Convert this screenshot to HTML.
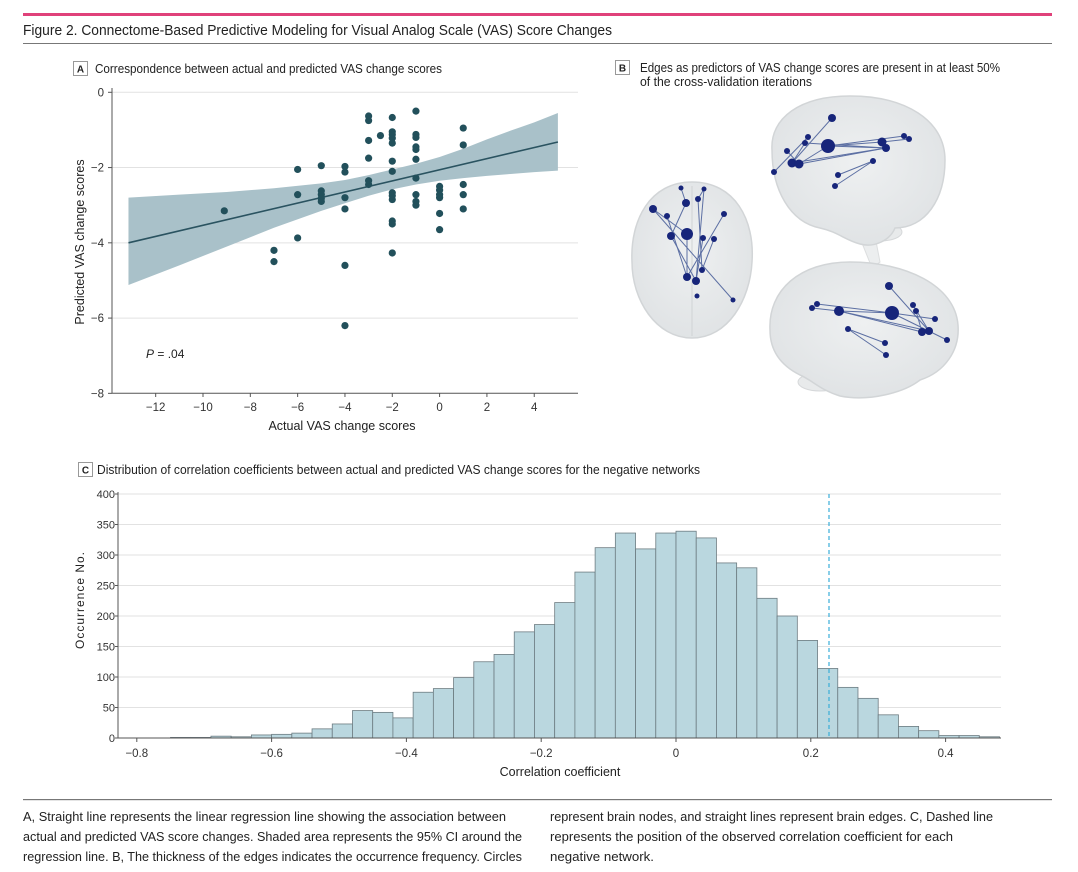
<!DOCTYPE html>
<html><head><meta charset="utf-8"><style>
html,body{margin:0;padding:0;background:#fff;}
svg{display:block;font-family:"Liberation Sans",sans-serif;}
</style></head><body>
<svg id="fig" width="1078" height="872" viewBox="0 0 1078 872" xmlns="http://www.w3.org/2000/svg">
<defs><radialGradient id="bg" cx="50%" cy="45%" r="60%"><stop offset="0" stop-color="#eef0f1"/><stop offset="1" stop-color="#dfe2e4"/></radialGradient></defs>
<rect x="23" y="13" width="1029" height="3" fill="#e0417a"/>
<text x="23" y="35" font-size="14.5" fill="#222" textLength="589" lengthAdjust="spacingAndGlyphs">Figure 2. Connectome-Based Predictive Modeling for Visual Analog Scale (VAS) Score Changes</text>
<rect x="23" y="43" width="1029" height="1" fill="#777"/>

<rect x="73.5" y="61.5" width="14" height="14" fill="#fff" stroke="#999"/>
<text x="80.5" y="72.5" font-size="10" font-weight="bold" text-anchor="middle" fill="#222">A</text>
<text x="95" y="73" font-size="12.5" fill="#222" textLength="347" lengthAdjust="spacingAndGlyphs">Correspondence between actual and predicted VAS change scores</text>

<rect x="615.5" y="60.5" width="14" height="14" fill="#fff" stroke="#999"/>
<text x="622.5" y="71.5" font-size="10" font-weight="bold" text-anchor="middle" fill="#222">B</text>
<text x="640" y="72" font-size="12.5" fill="#222" textLength="360" lengthAdjust="spacingAndGlyphs">Edges as predictors of VAS change scores are present in at least 50%</text>
<text x="640" y="86" font-size="12.5" fill="#222" textLength="172" lengthAdjust="spacingAndGlyphs">of the cross-validation iterations</text>

<rect x="78.5" y="462.5" width="14" height="14" fill="#fff" stroke="#999"/>
<text x="85.5" y="473.5" font-size="10" font-weight="bold" text-anchor="middle" fill="#222">C</text>
<text x="97" y="474" font-size="12.5" fill="#222" textLength="603" lengthAdjust="spacingAndGlyphs">Distribution of correlation coefficients between actual and predicted VAS change scores for the negative networks</text>

<g id="scatter"></g>
<g id="brains"></g>
<g id="hist"></g>

<rect x="23" y="799" width="1029" height="1.2" fill="#777"/>
<g font-size="13" fill="#222">
<text x="23" y="821" textLength="483" lengthAdjust="spacingAndGlyphs">A, Straight line represents the linear regression line showing the association between</text>
<text x="23" y="841" textLength="499" lengthAdjust="spacingAndGlyphs">actual and predicted VAS score changes. Shaded area represents the 95% CI around the</text>
<text x="23" y="861" textLength="499" lengthAdjust="spacingAndGlyphs">regression line. B, The thickness of the edges indicates the occurrence frequency. Circles</text>
<text x="550" y="821" textLength="443" lengthAdjust="spacingAndGlyphs">represent brain nodes, and straight lines represent brain edges. C, Dashed line</text>
<text x="550" y="841" textLength="403" lengthAdjust="spacingAndGlyphs">represents the position of the observed correlation coefficient for each</text>
<text x="550" y="861" textLength="104" lengthAdjust="spacingAndGlyphs">negative network.</text>
</g>
</svg>
<script>
const NS="http://www.w3.org/2000/svg";
// ---------- Scatter data ----------
const scatterX=[-9.1,-7,-7,-6,-6,-6,-5,-5,-5,-5,-5,-4,-4,-4,-4,-4,-4,-3,-3,-3,-3,-3,-3,-2.5,
-2,-2,-2,-2,-2,-2,-2,-2,-2,-2,-2,-2,-2,-1,-1,-1,-1,-1,-1,-1,-1,-1,-1,0,0,0,0,0,0,1,1,1,1,1];
const scatterY=[-3.15,-4.2,-4.5,-2.05,-2.72,-3.87,-1.95,-2.62,-2.72,-2.82,-2.9,-1.97,-2.12,-2.8,-3.1,-4.6,-6.2,-0.63,-0.75,-1.28,-1.75,-2.35,-2.45,-1.15,
-0.67,-1.05,-1.12,-1.22,-1.35,-1.83,-2.1,-2.67,-2.75,-2.85,-3.42,-3.5,-4.27,-0.5,-1.12,-1.2,-1.45,-1.52,-1.78,-2.28,-2.72,-2.9,-3.0,-2.5,-2.6,-2.72,-2.8,-3.22,-3.65,-0.95,-1.4,-2.45,-2.72,-3.1];
const regX=[-13.15,5.0];
const regY=[-4.0,-1.32];
const bandX=[-13.15,-11,-9,-7,-5,-4,-3,-2,-1,0,1,2,3,4,5];
const bandUpper=[-2.8,-2.72,-2.65,-2.55,-2.42,-2.33,-2.2,-2.05,-1.9,-1.72,-1.5,-1.25,-1.02,-0.8,-0.55];
const bandLower=[-5.12,-4.6,-4.1,-3.6,-3.15,-2.95,-2.75,-2.58,-2.45,-2.35,-2.28,-2.22,-2.17,-2.12,-2.08];
const xTicksA=[-12,-10,-8,-6,-4,-2,0,2,4];
const yTicksA=[0,-2,-4,-6,-8];

const sx=v=>439.6+v*23.66, sy=v=>92.3-v*37.63;
function el(tag,attrs,parent){const e=document.createElementNS(NS,tag);for(const k in attrs)e.setAttribute(k,attrs[k]);parent.appendChild(e);return e;}
const S=document.getElementById('scatter');
yTicksA.forEach(t=>{
  if(t>-8){const g=el('line',{x1:112,x2:578,y1:sy(t),y2:sy(t),stroke:'#e2e2e2','stroke-width':1},S);
  
  }
  el('line',{x1:108,x2:112,y1:sy(t),y2:sy(t),stroke:'#555'},S);
  const tx=el('text',{x:104,y:sy(t)+4,'font-size':11.5,'text-anchor':'end',fill:'#333'},S);tx.textContent=t===0?'0':'−'+Math.abs(t);
  
  
});
el('line',{x1:112,x2:112,y1:88,y2:393.3,stroke:'#555'},S);
el('line',{x1:112,x2:578,y1:393.3,y2:393.3,stroke:'#555'},S);
xTicksA.forEach(t=>{
  el('line',{x1:sx(t),x2:sx(t),y1:393.3,y2:397,stroke:'#555'},S);
  const tx=el('text',{x:sx(t),y:411,'font-size':11.5,'text-anchor':'middle',fill:'#333'},S);tx.textContent=t===0?'0':(t<0?'−'+Math.abs(t):t);
  
  
});
let d='M'+bandX.map((x,i)=>sx(x)+','+sy(bandUpper[i])).join('L');
for(let i=bandX.length-1;i>=0;i--)d+='L'+sx(bandX[i])+','+sy(bandLower[i]);
const band=el('path',{d:d+'Z',fill:'#a9c1c9'},S);


const rl=el('line',{x1:sx(regX[0]),y1:sy(regY[0]),x2:sx(regX[1]),y2:sy(regY[1]),stroke:'#2a5360','stroke-width':1.6},S);


scatterX.forEach((x,i)=>{
  const c=el('circle',{cx:sx(x),cy:sy(scatterY[i]),r:3.6,fill:'#22505b'},S);
  
  
});
let t=el('text',{x:342,y:430,'font-size':12.5,'text-anchor':'middle',fill:'#222'},S);t.textContent='Actual VAS change scores';


t=el('text',{x:0,y:0,'font-size':12.5,'text-anchor':'middle',fill:'#222',transform:'translate(84,242) rotate(-90)'},S);t.textContent='Predicted VAS change scores';


t=el('text',{x:146,y:358,'font-size':12,fill:'#222'},S);t.innerHTML='<tspan font-style="italic">P</tspan> = .04';



// ---------- Brains ----------
const B=document.getElementById('brains');
el('ellipse',{cx:880,cy:232,rx:22,ry:9,fill:'#e8eaeb',stroke:'#d6d8da'},B);
el('path',{d:'M860,238 L872,268 L880,262 L875,236Z',fill:'#eceeef',stroke:'#dcdedf'},B);
el('ellipse',{cx:820,cy:382,rx:22,ry:9,fill:'#e8eaeb',stroke:'#d6d8da'},B);
const shapes=[
 {d:'M692,182 C735,182 755,220 752,262 C750,300 728,338 692,338 C656,338 632,300 632,262 C630,220 650,182 692,182Z'},
 {d:'M772,150 C770,118 800,96 850,96 C905,96 945,120 945,160 C945,200 925,228 895,228 C890,240 875,248 860,244 C845,240 838,232 820,228 C790,222 772,190 772,150Z'},
 {d:'M770,330 C768,290 800,262 850,262 C905,262 955,285 958,325 C960,350 945,372 920,380 C905,392 870,402 840,396 C820,390 812,380 800,375 C780,365 770,350 770,330Z'}
];
shapes.forEach(s=>{const p=el('path',{d:s.d,fill:'url(#bg)',stroke:'#d2d5d7','stroke-width':1.5},B);

});
el('line',{x1:692,y1:186,x2:692,y2:336,stroke:'#d0d3d5'},B);
const nodes=[
 [832,118,4],[808,137,3],[828,146,7],[787,151,3],[792,163,4.5],[799,164,4.5],[774,172,3],[882,142,4.5],[886,148,4],[904,136,3],[909,139,3],[873,161,3],[838,175,3],[835,186,3],[805,143,3],
 [681,188,2.5],[704,189,2.5],[686,203,4],[698,199,3],[653,209,4],[667,216,3],[724,214,3],[687,234,6],[671,236,4],[703,238,3],[714,239,3],[702,270,3],[687,277,4],[696,281,4],[697,296,2.5],[733,300,2.5],
 [889,286,4],[812,308,3],[817,304,3],[839,311,5],[892,313,7],[913,305,3],[916,311,3],[935,319,3],[922,332,4],[929,331,4],[947,340,3],[848,329,3],[885,343,3],[886,355,3]
];
const edges=[[0,4],[1,6],[2,7],[2,8],[4,8],[5,8],[14,4],[3,5],[2,9],[7,10],[11,12],[11,13],[2,5],[8,14],
 [15,17],[16,18],[18,26],[19,22],[19,30],[20,27],[21,27],[22,27],[23,28],[24,28],[25,26],[17,23],[16,28],
 [31,40],[32,34],[33,35],[34,35],[34,39],[35,41],[36,40],[37,39],[42,44],[42,43],[34,40],[35,38]];
edges.forEach(e=>{const a=nodes[e[0]],b=nodes[e[1]];const l=el('line',{x1:a[0],y1:a[1],x2:b[0],y2:b[1],stroke:'#5c6fa3','stroke-width':1},B);

});
nodes.forEach(n=>{const c=el('circle',{cx:n[0],cy:n[1],r:n[2],fill:'#17257a'},B);

});

// ---------- Histogram ----------
const binStart=-0.75, binWidth=0.03;
const counts=[1,1,3,2,5,6,8,15,23,45,42,33,75,81,99,125,137,174,186,222,272,312,336,310,336,339,328,287,279,229,200,160,114,83,65,38,19,12,4,4,2];
const xTicksC=[-0.8,-0.6,-0.4,-0.2,0,0.2,0.4];
const yTicksC=[0,50,100,150,200,250,300,350,400];
const observedR=0.227;
const hx=v=>676+v*674, hy=v=>738-v*0.61;
const H=document.getElementById('hist');
yTicksC.forEach(v=>{
  if(v>0){const g=el('line',{x1:118,x2:1001,y1:hy(v),y2:hy(v),stroke:'#e2e2e2'},H);
  
  }
  el('line',{x1:115,x2:118,y1:hy(v),y2:hy(v),stroke:'#555'},H);
  const tx=el('text',{x:115,y:hy(v)+4,'font-size':11,'text-anchor':'end',fill:'#333'},H);tx.textContent=v;
  
  
});
counts.forEach((c,i)=>{
  const x0=hx(binStart+i*binWidth), x1=hx(binStart+(i+1)*binWidth);
  const r=el('rect',{x:x0,y:hy(c),width:x1-x0,height:hy(0)-hy(c),fill:'#bad7df',stroke:'#6d7c82','stroke-width':0.8},H);
  
  
});
el('line',{x1:118,x2:118,y1:492,y2:738,stroke:'#555'},H);
el('line',{x1:118,x2:1001,y1:738,y2:738,stroke:'#555'},H);
xTicksC.forEach(v=>{
  el('line',{x1:hx(v),x2:hx(v),y1:738,y2:742,stroke:'#555'},H);
  const tx=el('text',{x:hx(v),y:757,'font-size':11.5,'text-anchor':'middle',fill:'#333'},H);tx.textContent=v===0?'0':(v<0?'−'+Math.abs(v).toFixed(1):v.toFixed(1));
  
  
});
const dl=el('line',{x1:hx(observedR),x2:hx(observedR),y1:494,y2:738,stroke:'#3aaed8','stroke-width':1.2,'stroke-dasharray':'4,3'},H);


t=el('text',{x:560,y:776,'font-size':12.5,'text-anchor':'middle',fill:'#222'},H);t.textContent='Correlation coefficient';


t=el('text',{x:0,y:0,'font-size':12,'text-anchor':'middle',fill:'#222','letter-spacing':'1',transform:'translate(84,600) rotate(-90)'},H);t.textContent='Occurrence No.';


</script>
</body></html>
